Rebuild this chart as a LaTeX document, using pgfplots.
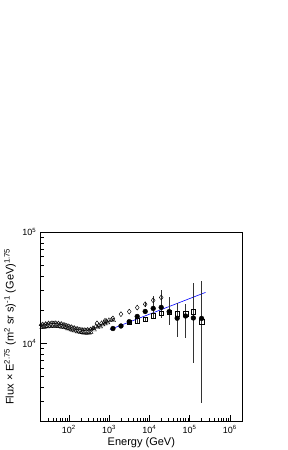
\documentclass[border=0pt]{standalone}
\usepackage{fontspec}
\setmainfont{Liberation Sans}
\usepackage{pgfplots}
\pgfplotsset{compat=1.18}
\begin{document}
\begin{tikzpicture}
\useasboundingbox (-40.7pt,-29pt) rectangle (246.3pt,421pt);
\begin{axis}[
  at={(0pt,0pt)}, anchor=south west,
  scale only axis, width=201.3pt, height=189pt,
  xmode=log, ymode=log, xmin=20, xmax=2e6, ymin=2000, ymax=1e5,
  axis line style={line width=0.6pt},
  tick style={black, line width=0.5pt},
  tick align=inside,
  xtick pos=left, ytick pos=left,
  major tick length=6pt, minor tick length=3pt,
  xtick={100,1000,10000,100000,1000000},
  xticklabels={10\textsuperscript{2},10\textsuperscript{3},10\textsuperscript{4},10\textsuperscript{5},10\textsuperscript{6}},
  minor xtick={30,40,50,60,70,80,90,200,300,400,500,600,700,800,900,2000,3000,4000,5000,6000,7000,8000,9000,20000,30000,40000,50000,60000,70000,80000,90000,200000,300000,400000,500000,600000,700000,800000,900000},
  ytick={10000,100000},
  yticklabels={10\textsuperscript{4},10\textsuperscript{5}},
  minor ytick={3000,4000,5000,6000,7000,8000,9000,20000,30000,40000,50000,60000,70000,80000,90000},
  ticklabel style={font=\fontsize{9}{10}\selectfont},
  xticklabel style={yshift=-1pt},
  yticklabel style={xshift=-1pt},
  label style={font=\fontsize{11}{13}\selectfont},
  xlabel={Energy (GeV)},
  xlabel style={at={(axis description cs:0.5,0)}, anchor=center, yshift=-22pt},
  ylabel={Flux × E\textsuperscript{2.75} (m\textsuperscript{2} sr s)\textsuperscript{-1} (GeV)\textsuperscript{1.75}},
  ylabel style={at={(axis description cs:0,0.5)}, anchor=center, yshift=30.7pt},
]
% dense low-energy series A
\addplot[only marks, mark=triangle, mark size=1.8pt, mark options={black, line width=0.45pt}] coordinates {
(20,14700) (21.9,14900) (24,14750) (26.3,15050) (28.8,15000) (31.6,15250) (34.7,15100) (38,15350)
(41.7,15200) (45.7,15350) (50.1,15150) (55,15250) (60.3,15000) (66.1,15050) (72.4,14800) (79.4,14750)
(87.1,14500) (95.5,14450) (105,14200) (115,14150) (126,13900) (138,13850) (151,13600) (166,13600)
(182,13400) (200,13400) (219,13250) (240,13300) (263,13200) (288,13350) (316,13250) (347,13450)
(380,13400) (417,13650)
};
% dense low-energy series B
\addplot[only marks, mark=triangle, mark size=1.8pt, mark options={black, line width=0.45pt}] coordinates {
(20.9,13800) (22.9,13950) (25.1,13850) (27.5,14050) (30.2,14000) (33.1,14200) (36.3,14100) (39.8,14250)
(43.7,14150) (47.9,14250) (52.5,14100) (57.5,14150) (63.1,13950) (69.2,13950) (75.9,13750) (83.2,13700)
(91.2,13450) (100,13400) (110,13150) (120,13100) (132,12850) (145,12850) (158,12600) (174,12600)
(191,12400) (209,12450) (229,12300) (251,12350) (275,12250) (302,12350) (331,12300) (363,12500)
};
% medium open triangles
\addplot[only marks, mark=triangle, mark size=2.4pt, mark options={black, line width=0.4pt}] coordinates {
(397,13650) (471,14230) (560,14520) (646,15140) (745,15450) (859,15780) (991,16110) (1143,16290) (1282,16000)
(430,13200) (520,13900) (610,14100) (700,14700) (800,15000) (930,15300)
};
% blue fit line
\addplot[blue, line width=0.6pt] coordinates {(1050,13280) (248000,28640)};
% open diamonds
\addplot[only marks, mark=diamond, mark size=2.5pt, mark options={black, line width=0.45pt, fill=none},
  error bars/.cd, y dir=both, y explicit, error mark=none, error bar style={black!80, line width=0.4pt}]
  table[x=x, y=y, y error plus=ep, y error minus=em] {
x y ep em
500 15100 0 0
790 15900 0 0
1245 16700 0 0
1970 18250 0 0
3160 19240 0 0
4990 20900 0 0
7880 22400 1200 1200
12450 24300 2500 2200
19700 25800 4200 3800
};
% open squares
\addplot[only marks, mark=square, mark size=2.3pt, mark options={black, line width=0.45pt, fill=none},
  error bars/.cd, y dir=both, y explicit, error mark=none, error bar style={black!80, line width=0.4pt}]
  table[x=x, y=y, y error plus=ep, y error minus=em] {
x y ep em
3160 15400 600 600
4990 15960 700 700
7880 16450 900 900
12450 17700 1300 1300
19700 18620 1800 1800
31100 19010 2500 2500
49100 18430 3000 3000
79300 18430 4000 4000
123800 19150 5000 5000
197900 15620 6000 5000
};
% filled circles
\addplot[only marks, mark=*, mark size=2.4pt, mark options={black, fill=black},
  error bars/.cd, y dir=both, y explicit, error mark=none, error bar style={black!80, line width=0.4pt}]
  table[x=x, y=y, y error plus=ep, y error minus=em] {
x y ep em
1245 13560 400 400
1970 14290 400 400
3160 15620 500 500
4990 17410 600 600
7880 19320 900 900
12450 20560 1300 1300
19700 21000 2000 2000
31100 19240 6900 4700
49100 16790 6000 5460
79300 17580 4400 6500
123800 16870 17600 10200
197900 16720 19800 13800
};
\end{axis}
\end{tikzpicture}
\end{document}
